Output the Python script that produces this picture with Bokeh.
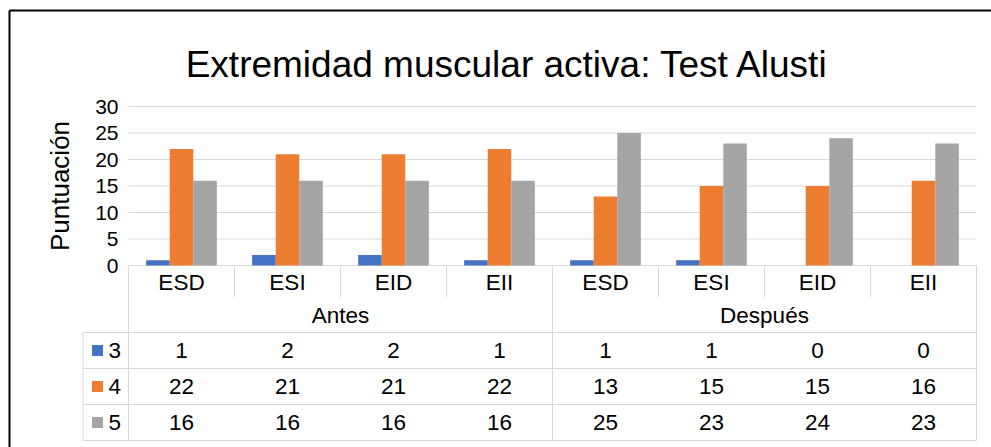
import math
from bokeh.plotting import figure
from bokeh.models import Range1d, FixedTicker, ColumnDataSource
from bokeh.embed import file_html
from bokeh.resources import INLINE
from bokeh.core.properties import value

# ---- data ----
chart_title = "Extremidad muscular activa: Test Alusti"
y_label = "Puntuación"
groups = ["Antes", "Después"]
parts = ["ESD", "ESI", "EID", "EII"]
series_names = ["3", "4", "5"]
s3 = [1, 2, 2, 1, 1, 1, 0, 0]
s4 = [22, 21, 21, 22, 13, 15, 15, 16]
s5 = [16, 16, 16, 16, 25, 23, 24, 23]
y_ticks = [0, 5, 10, 15, 20, 25, 30]
colors = ["#4472C4", "#ED7D31", "#A5A5A5"]

FONT = "Liberation Sans"
GRID = "#D9D9D9"

categories = [c for g in groups for c in parts]
series_vals = [s3, s4, s5]
n = len(categories)
per_group = len(parts)

# ---- geometry (page pixels) ----
W, H = 991, 447
PAGE0 = 0
plot_left, plot_right = 128.0, 976.0
zero_y, top_y = 265.0, 106.0
unit_x = (plot_right - plot_left) / n
unit_y = (zero_y - top_y) / max(y_ticks)

def X(px):
    return (px - plot_left) / unit_x

def Y(py):
    return (zero_y - py) / unit_y

p = figure(width=W, height=H, title=None,
           x_range=Range1d(X(PAGE0), X(PAGE0 + W)),
           y_range=Range1d(Y(PAGE0 + H), Y(PAGE0)),
           output_backend="svg", toolbar_location=None,
           min_border_left=0, min_border_right=0, min_border_top=0, min_border_bottom=0,
           x_axis_location=None)
p.xgrid.visible = False
p.ygrid.visible = False
p.outline_line_color = None

# y axis (tick labels pushed into the frame)
ya = p.yaxis[0]
ya.ticker = FixedTicker(ticks=y_ticks)
ya.axis_line_color = None
ya.major_tick_line_color = None
ya.minor_tick_line_color = None
ya.major_tick_out = 0
ya.major_tick_in = 0
ya.major_label_standoff = -int(118 - PAGE0)
ya.major_label_text_font = FONT
ya.major_label_text_font_size = "21px"
ya.major_label_text_color = "#000000"

# gridlines
p.segment(x0=[0] * len(y_ticks), y0=y_ticks, x1=[n] * len(y_ticks), y1=y_ticks,
          line_color=GRID, line_width=1)

# bars
bw = 1 / 4.5
centers = [i + 0.5 for i in range(n)]
for k, (vals, c) in enumerate(zip(series_vals, colors)):
    p.vbar(x=[cx + (k - 1) * bw for cx in centers], top=vals, width=bw,
           fill_color=c, line_color=None)

# title and axis title
p.text(x=[X(507)], y=[Y(64)], text=[chart_title], text_align="center",
       text_baseline="alphabetic", text_font=value(FONT), text_font_size="37px",
       text_color="#000000")
p.text(x=[X(59)], y=[(Y(top_y) + Y(zero_y)) / 2], text=[y_label], angle=math.pi / 2,
       text_align="center", text_baseline="middle", text_font=value(FONT),
       text_font_size="26px", text_color="#000000")

# ---- data table ----
row_heights_px = [33.5, 33.5, 36.0, 36.0, 36.0]
n_rows = len(row_heights_px)
bounds_px = [0.0]
for hpx in row_heights_px:
    bounds_px.append(bounds_px[-1] + hpx)

def R(r):
    # table row position r (fractional) -> data y
    i = min(int(r), n_rows - 1)
    px = bounds_px[i] + (r - i) * row_heights_px[i]
    return -px / unit_y

leg_left = X(82.5)
seg = dict(x0=[], y0=[], x1=[], y1=[])
def add(a, b, c, d):
    seg["x0"].append(a); seg["y0"].append(b); seg["x1"].append(c); seg["y1"].append(d)

for r in range(2, n_rows + 1):
    add(leg_left, R(r), n, R(r))
for gx in range(0, n + 1, per_group):
    add(gx, 0, gx, R(n_rows))
for i in range(1, n):
    if i % per_group:
        add(i, 0, i, R(0.95))
add(leg_left, R(2), leg_left, R(n_rows))
p.segment(x0="x0", y0="y0", x1="x1", y1="y1", source=ColumnDataSource(seg),
          line_color=GRID, line_width=1)

txt = dict(text_align="center", text_baseline="middle", text_font=value(FONT),
           text_font_size="22.5px", text_color="#000000")
p.text(x=centers, y=[R(0.5)] * n, text=categories, **txt)
p.text(x=[g * per_group + per_group / 2 for g in range(len(groups))],
       y=[R(1.5)] * len(groups), text=groups, **txt)
for k, vals in enumerate(series_vals):
    p.text(x=centers, y=[R(2.5 + k)] * n, text=[str(v) for v in vals], **txt)

rows_y = [R(2.5 + k) for k in range(len(series_names))]
p.scatter(x=[X(97)] * len(series_names), y=rows_y, marker="square",
          size=11, fill_color=colors, line_color=None)
p.text(x=[X(108)] * len(series_names), y=rows_y, text=series_names,
       text_align="left", text_baseline="middle", text_font=value(FONT),
       text_font_size="22.5px", text_color="#000000")

# chart-area border (left and top edges)
p.segment(x0=[X(9), X(9)], y0=[Y(10), Y(10)], x1=[X(9), X(PAGE0 + W + 5)],
          y1=[Y(PAGE0 + H + 5), Y(10)], line_color="#000000", line_width=2)

open("out.html", "w").write(file_html(p, INLINE))
